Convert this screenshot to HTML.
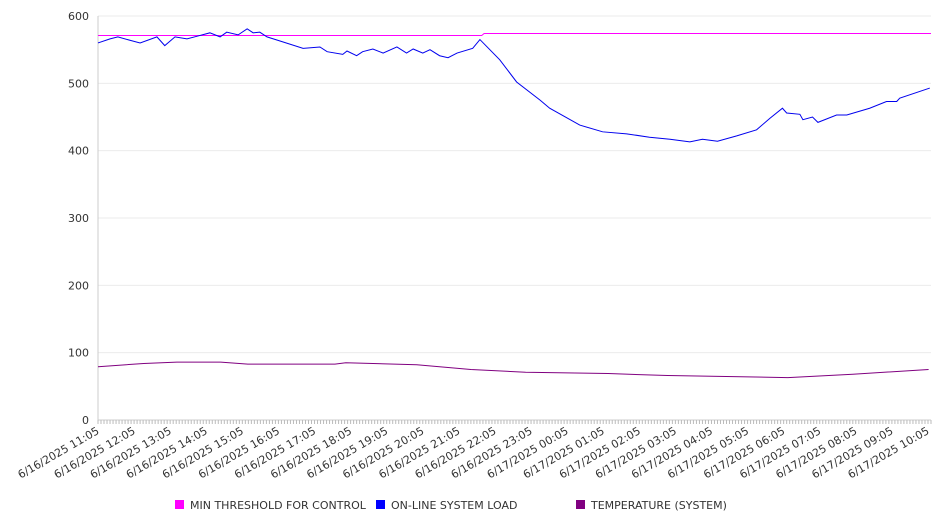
<!DOCTYPE html>
<html><head><meta charset="utf-8"><style>
html,body{margin:0;padding:0;background:#fff;}
svg{display:block;font-family:"DejaVu Sans","Liberation Sans",sans-serif;}
</style></head><body>
<svg id="chart" width="946" height="526" viewBox="0 0 946 526"></svg>
<script>
// minutes since 6/16/2025 11:05
const loadMinutes=[0,20,33,53,70,98,111,128,148,165,186,203,214,233,248,258,269,281,302,341,369,381,407,414,430,440,457,474,497,513,524,540,552,568,582,597,623,635,668,696,735,751,801,839,879,917,951,984,1005,1030,1062,1095,1117,1138,1145,1167,1172,1188,1197,1228,1245,1283,1311,1328,1333,1383];
const loadValues=[560,566,569,564,560,569,556,569,566,570,575,569,576,572,581,575,576,569,563,552,554,547,543,548,541,547,551,545,554,545,551,545,550,541,538,545,552,565,535,502,475,463,438,428,425,420,417,413,417,414,422,431,448,463,456,454,446,450,442,453,453,463,473,473,478,493];
const thrMinutes=[0,638,642,1385];
const thrValues=[571,571,574,574];
const tempMinutes=[0,76,131,204,249,394,412,530,620,711,848,947,1147,1255,1381];
const tempValues=[79,84,86,86,83,83,85,82,75,71,69,66,63,68,75];
const yTicks=[0,100,200,300,400,500,600];
const xLabels=["6/16/2025 11:05","6/16/2025 12:05","6/16/2025 13:05","6/16/2025 14:05","6/16/2025 15:05","6/16/2025 16:05","6/16/2025 17:05","6/16/2025 18:05","6/16/2025 19:05","6/16/2025 20:05","6/16/2025 21:05","6/16/2025 22:05","6/16/2025 23:05","6/17/2025 00:05","6/17/2025 01:05","6/17/2025 02:05","6/17/2025 03:05","6/17/2025 04:05","6/17/2025 05:05","6/17/2025 06:05","6/17/2025 07:05","6/17/2025 08:05","6/17/2025 09:05","6/17/2025 10:05"];

const NS="http://www.w3.org/2000/svg";
const svg=document.getElementById('chart');
const X0=98,X1=931,Y0=420,Y1=16,MAXMIN=1385;
const xs=m=>X0+m/MAXMIN*(X1-X0);
const ys=v=>Y0-v/600*(Y0-Y1);
function mk(t,a){const e=document.createElementNS(NS,t);for(const k in a)e.setAttribute(k,a[k]);svg.appendChild(e);return e;}

yTicks.forEach(v=>{
  const g=mk('line',{x1:X0,x2:X1,y1:ys(v),y2:ys(v),stroke:v===0?'#ccc':'#ebebeb','stroke-width':1});
  
  
  const t=mk('text',{x:89,y:ys(v)+4,'text-anchor':'end','font-size':11,fill:'#333'});
  t.textContent=v;
  
  
});
const ax=mk('line',{x1:X0,x2:X0,y1:Y1,y2:Y0,stroke:'#ccc'});


for(let m=0;m<=MAXMIN;m+=5){
  const t=mk('line',{x1:xs(m),x2:xs(m),y1:Y0,y2:Y0+4,stroke:'#bbb'});
  
  
}
xLabels.forEach((l,i)=>{
  const x=xs(i*60)+2,y=433;
  const t=mk('text',{x:x,y:y,'text-anchor':'end','font-size':11,fill:'#333',transform:`rotate(-30 ${x} ${y})`});
  t.textContent=l;
  
  
});
function line(ms,vs,color,name){
  const p=mk('polyline',{points:ms.map((m,i)=>xs(m)+','+ys(vs[i])).join(' '),fill:'none',stroke:color,'stroke-width':1});
  
  
}
line(tempMinutes,tempValues,'#800080','temperature-line');
line(thrMinutes,thrValues,'#ff00ff','threshold-line');
line(loadMinutes,loadValues,'#0000ee','load-line');

const legend=[['#ff00ff','MIN THRESHOLD FOR CONTROL',175],['#0000ff','ON-LINE SYSTEM LOAD',376],['#800080','TEMPERATURE (SYSTEM)',576]];
legend.forEach(([c,l,x])=>{
  const r=mk('rect',{x:x,y:500,width:9,height:9,fill:c});
  
  
  const t=mk('text',{x:x+15,y:509,'font-size':11,fill:'#333'});
  t.textContent=l;
  
  
});
</script>
</body></html>
